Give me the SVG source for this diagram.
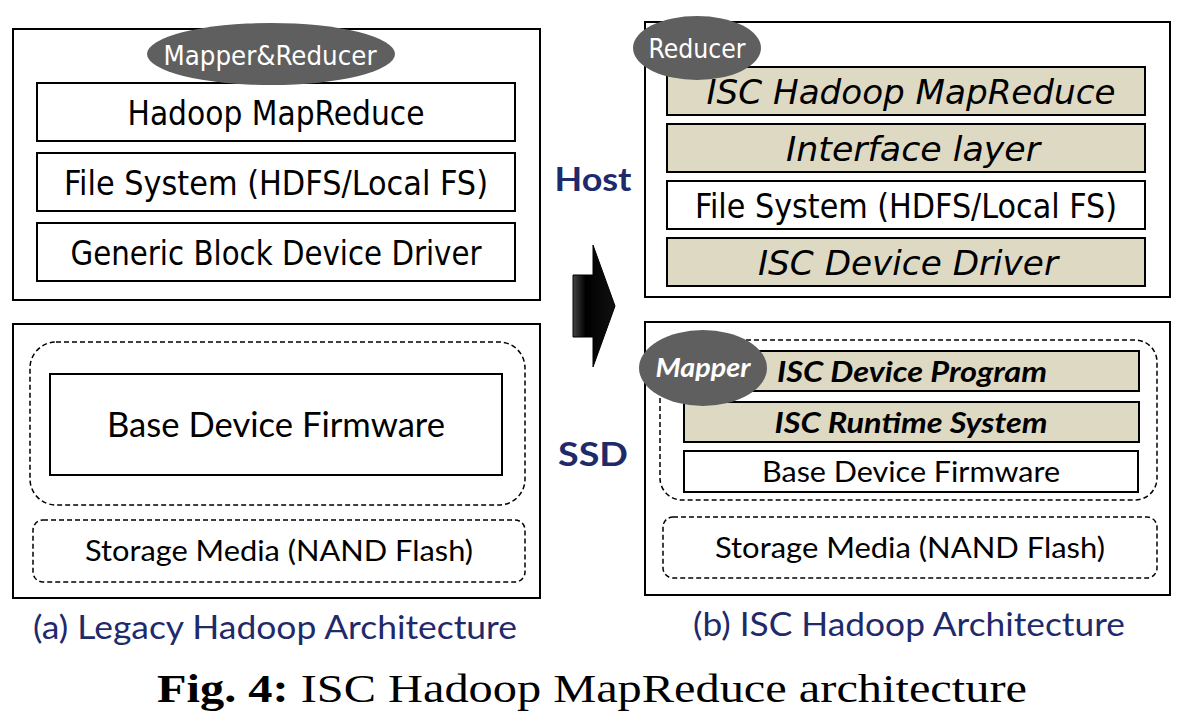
<svg xmlns="http://www.w3.org/2000/svg" width="1182" height="728" viewBox="0 0 1182 728">
<defs>
<style>
.outer{fill:#fff;stroke:#000;stroke-width:2}
.box{fill:#fff;stroke:#000;stroke-width:2}
.tan{fill:#ddd9c3;stroke:#000;stroke-width:2}
.dash{fill:none;stroke:#000;stroke-width:1.5;stroke-dasharray:5,3}
.ell{fill:#5f5f5f}
.t{font-family:"DejaVu Sans Condensed","DejaVu Sans",Verdana,sans-serif;fill:#000;text-anchor:middle}
.c{font-family:Lato,"Open Sans",sans-serif;fill:#000;text-anchor:middle}
.w{fill:#fff}
.navy{fill:#1f2a6b}
.it{font-style:italic}
.b{font-weight:bold}
</style>
<linearGradient id="ag" x1="0" y1="0" x2="1" y2="0">
<stop offset="0" stop-color="#444"/>
<stop offset="0.3" stop-color="#000"/>
<stop offset="1" stop-color="#111"/>
</linearGradient>
</defs>
<rect width="1182" height="728" fill="#fff"/>

<g id="legacy-host">
<rect class="outer" x="13" y="29" width="527" height="271"/>
<rect class="box" x="37" y="83" width="478" height="58"/>
<text class="t" x="276" y="125" font-size="33" textLength="297" lengthAdjust="spacingAndGlyphs">Hadoop MapReduce</text>
<rect class="box" x="37" y="153" width="478" height="58"/>
<text class="t" x="276" y="195" font-size="33" textLength="424" lengthAdjust="spacingAndGlyphs">File System (HDFS/Local FS)</text>
<rect class="box" x="37" y="223" width="478" height="58"/>
<text class="t" x="276" y="265" font-size="33" textLength="411" lengthAdjust="spacingAndGlyphs">Generic Block Device Driver</text>
<ellipse class="ell" cx="271" cy="54" rx="124" ry="31"/>
<text class="t w" x="270" y="65" font-size="27" textLength="213" lengthAdjust="spacingAndGlyphs">Mapper&amp;Reducer</text>
</g>

<g id="legacy-ssd">
<rect class="outer" x="13" y="324" width="527" height="274"/>
<rect class="dash" x="30" y="342" width="495" height="163" rx="26"/>
<rect class="box" x="50" y="374" width="452" height="101"/>
<text class="c" x="276" y="437" font-size="34" textLength="338" lengthAdjust="spacingAndGlyphs">Base Device Firmware</text>
<rect class="dash" x="33" y="520" width="492" height="62" rx="10"/>
<text class="c" x="279" y="561" font-size="29" textLength="388" lengthAdjust="spacingAndGlyphs">Storage Media (NAND Flash)</text>
</g>
<text id="caption-a" class="c navy" x="275" y="639" font-size="32" textLength="484" lengthAdjust="spacingAndGlyphs">(a) Legacy Hadoop Architecture</text>

<g id="isc-host">
<rect class="outer" x="645" y="22" width="525" height="275"/>
<rect class="tan" x="667" y="67" width="478" height="48"/>
<text class="t it" x="911" y="104" font-size="33" textLength="409" lengthAdjust="spacingAndGlyphs">ISC Hadoop MapReduce</text>
<rect class="tan" x="667" y="124" width="478" height="48"/>
<text class="t it" x="913" y="161" font-size="33" textLength="254" lengthAdjust="spacingAndGlyphs">Interface layer</text>
<rect class="box" x="667" y="181" width="478" height="48"/>
<text class="t" x="906" y="218" font-size="33" textLength="422" lengthAdjust="spacingAndGlyphs">File System (HDFS/Local FS)</text>
<rect class="tan" x="667" y="238" width="478" height="48"/>
<text class="t it" x="908" y="275" font-size="33" textLength="300" lengthAdjust="spacingAndGlyphs">ISC Device Driver</text>
<ellipse class="ell" cx="697" cy="48" rx="64" ry="32"/>
<text class="t w" x="697" y="58" font-size="27" textLength="97" lengthAdjust="spacingAndGlyphs">Reducer</text>
</g>

<g id="isc-ssd">
<rect class="outer" x="645" y="322" width="525" height="273"/>
<rect class="dash" x="660" y="340" width="497" height="160" rx="22"/>
<rect class="tan" x="750" y="351" width="389" height="40"/>
<text class="c it b" x="912" y="382" font-size="29" textLength="270" lengthAdjust="spacingAndGlyphs">ISC Device Program</text>
<rect class="tan" x="684" y="402" width="455" height="40"/>
<text class="c it b" x="911" y="433" font-size="29" textLength="273" lengthAdjust="spacingAndGlyphs">ISC Runtime System</text>
<rect class="box" x="684" y="451" width="454" height="41"/>
<text class="c" x="911" y="482" font-size="28" textLength="298" lengthAdjust="spacingAndGlyphs">Base Device Firmware</text>
<rect class="dash" x="663" y="517" width="494" height="61" rx="10"/>
<text class="c" x="910" y="558" font-size="29" textLength="390" lengthAdjust="spacingAndGlyphs">Storage Media (NAND Flash)</text>
<ellipse class="ell" cx="703" cy="368" rx="64" ry="38"/>
<text class="c w it b" x="703" y="377" font-size="27" textLength="95" lengthAdjust="spacingAndGlyphs">Mapper</text>
</g>
<text id="caption-b" class="c navy" x="909" y="636" font-size="32" textLength="432" lengthAdjust="spacingAndGlyphs">(b) ISC Hadoop Architecture</text>

<text id="host-label" class="c navy b" x="593" y="191" font-size="32" textLength="77" lengthAdjust="spacingAndGlyphs">Host</text>
<text id="ssd-label" class="c navy b" x="593" y="466" font-size="32" textLength="70" lengthAdjust="spacingAndGlyphs">SSD</text>

<g id="connectors">
<path d="M573,275 L593,275 L593,245 L615,306 L593,367 L593,337 L573,337 Z" fill="url(#ag)" stroke="#000" stroke-width="1"/>
</g>

<text id="fig-caption" x="592" y="702" font-family="'Liberation Serif','Times New Roman',serif" font-size="41" text-anchor="middle" textLength="870" lengthAdjust="spacingAndGlyphs"><tspan font-weight="bold">Fig. 4:</tspan> ISC Hadoop MapReduce architecture</text>
</svg>
